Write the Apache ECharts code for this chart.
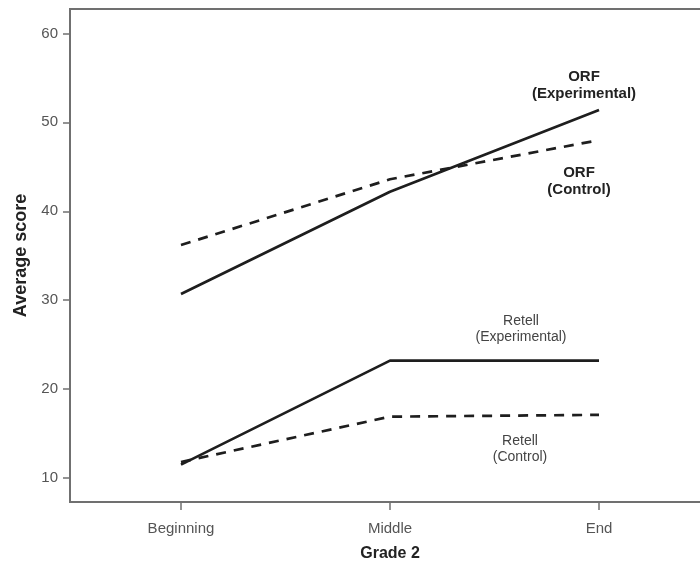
<!DOCTYPE html>
<html>
<head>
<meta charset="utf-8">
<script src="https://cdn.jsdelivr.net/npm/echarts@6/dist/echarts.min.js"></script>
<style>html,body{margin:0;padding:0;background:#fff;}#c{width:700px;height:564px;}</style>
</head>
<body>
<div id="c"></div>
<script>
var categories = ['Beginning', 'Middle', 'End'];
var yTicks = [10, 20, 30, 40, 50, 60];
var orfExperimental = [30.7, 42.2, 51.4];
var orfControl = [36.2, 43.6, 48.0];
var retellExperimental = [11.5, 23.2, 23.2];
var retellControl = [11.8, 16.9, 17.1];

var FONT = "'Liberation Sans', Arial, sans-serif";
function pts(arr) { return arr.map(function (v, i) { return [i, v]; }); }
function line(name, arr, dashed) {
  return {
    name: name, type: 'line', data: pts(arr), symbol: 'none', silent: true,
    lineStyle: { color: '#1e1e1e', width: 2.7, type: dashed ? [10, 8] : 'solid' }
  };
}
function note(x, y, text, bold, size, color) {
  return { type: 'text', x: x, y: y, silent: true,
    style: { text: text, align: 'center', verticalAlign: 'top', fontFamily: FONT,
      fontWeight: bold ? 'bold' : 'normal', fontSize: size, lineHeight: size + 2, fill: color } };
}
var chart = echarts.init(document.getElementById('c'));
chart.setOption({
  animation: false,
  backgroundColor: '#fff',
  grid: { left: 70, top: 9, width: 640, height: 493, outerBoundsMode: 'none', containLabel: false,
    show: true, borderColor: '#707070', borderWidth: 2, backgroundColor: 'transparent' },
  xAxis: {
    type: 'value', min: -0.531, max: 2.531,
    name: 'Grade 2', nameLocation: 'middle', nameGap: 44,
    nameTextStyle: { fontFamily: FONT, fontWeight: 'bold', fontSize: 16, color: '#222' },
    splitLine: { show: false },
    axisLine: { show: true, onZero: false, lineStyle: { color: '#707070', width: 2 } },
    axisTick: { show: true, customValues: [0, 1, 2], length: 8, lineStyle: { color: '#707070', width: 1.5 } },
    axisLabel: { customValues: [0, 1, 2], margin: 19, fontFamily: FONT, fontSize: 15, color: '#555',
      formatter: function (v) { return categories[Math.round(v)]; } }
  },
  yAxis: {
    type: 'value', min: 7.3, max: 62.75,
    name: 'Average score', nameLocation: 'middle', nameGap: 40,
    nameTextStyle: { fontFamily: FONT, fontWeight: 'bold', fontSize: 18, color: '#222' },
    splitLine: { show: false },
    axisLine: { show: true, onZero: false, lineStyle: { color: '#707070', width: 2 } },
    axisTick: { show: true, customValues: yTicks, length: 7, lineStyle: { color: '#707070', width: 1.5 } },
    axisLabel: { customValues: yTicks, margin: 12, fontFamily: FONT, fontSize: 15, color: '#555' }
  },
  series: [
    line('ORF (Experimental)', orfExperimental, false),
    line('ORF (Control)', orfControl, true),
    line('Retell (Experimental)', retellExperimental, false),
    line('Retell (Control)', retellControl, true)
  ],
  graphic: [
    note(584, 68, 'ORF\n(Experimental)', true, 15, '#222'),
    note(579, 164, 'ORF\n(Control)', true, 15, '#222'),
    note(521, 313, 'Retell\n(Experimental)', false, 14, '#444'),
    note(520, 433, 'Retell\n(Control)', false, 14, '#444')
  ]
});
</script>
</body>
</html>
